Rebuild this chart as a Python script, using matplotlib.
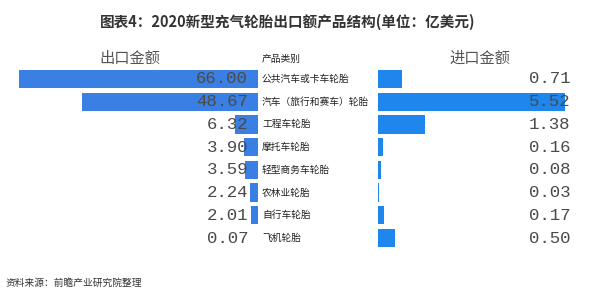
import matplotlib
matplotlib.use('Agg')
from matplotlib import pyplot as plt
from matplotlib.transforms import blended_transform_factory

plt.rcParams['font.family'] = ['Noto Sans CJK SC', 'DejaVu Sans']

categories = ['公共汽车或卡车轮胎', '汽车（旅行和赛车）轮胎', '工程车轮胎', '摩托车轮胎',
              '轻型商务车轮胎', '农林业轮胎', '自行车轮胎', '飞机轮胎']
export_vals = [66.00, 48.67, 6.32, 3.90, 3.59, 2.24, 2.01, 0.07]
import_vals = [0.71, 5.52, 1.38, 0.16, 0.08, 0.03, 0.17, 0.50]

W, H = 600, 300
fig = plt.figure(figsize=(6, 3), dpi=100)

top_px, bot_px = 67.6, 249.4
ax_b = 1 - bot_px / H
ax_h = (bot_px - top_px) / H

# left: export, right: import
axl = fig.add_axes([19 / W, ax_b, (258 - 19) / W, ax_h])
axr = fig.add_axes([378 / W, ax_b, (565 - 378) / W, ax_h])

ypos = list(range(len(categories)))
axl.barh(ypos, export_vals, height=0.8, color='#3a7fe3')
axl.set_xlim(max(export_vals), 0)
axr.barh(ypos, import_vals, height=0.8, color='#1f86ee')
axr.set_xlim(0, max(import_vals))

for ax in (axl, axr):
    ax.set_ylim(len(categories) - 0.5, -0.5)
    ax.axis('off')

# figure-level texts so they sit on top of the bars
tl = blended_transform_factory(fig.transFigure, axl.transData)
num_font = dict(family='Liberation Mono', color='#4a4a4a', fontsize=12.5, va='center')
for i, cat in enumerate(categories):
    fig.text(248 / W, i, '%.2f' % export_vals[i], ha='right', transform=tl, **num_font)
    fig.text(262 / W, i, cat, ha='left', va='center', fontsize=7, color='#222222',
             transform=tl)
    fig.text(570 / W, i, '%.2f' % import_vals[i], ha='right', transform=tl, **num_font)

fig.text(130 / W, 1 - 58 / H, '出口金额', ha='center', va='center', fontsize=11, color='#555555')
fig.text(480 / W, 1 - 58 / H, '进口金额', ha='center', va='center', fontsize=11, color='#555555')
fig.text(262 / W, 1 - 59 / H, '产品类别', ha='left', va='center', fontsize=7, color='#222222')

fig.text(288 / W, 1 - 22 / H, '图表4：2020新型充气轮胎出口额产品结构(单位：亿美元)',
         ha='center', va='center', fontsize=10.5, fontweight='bold', color='#333333')
fig.text(6 / W, 1 - 283 / H, '资料来源：前瞻产业研究院整理', ha='left', va='center',
         fontsize=7, color='#333333')

fig.savefig('out.png', dpi=100)
